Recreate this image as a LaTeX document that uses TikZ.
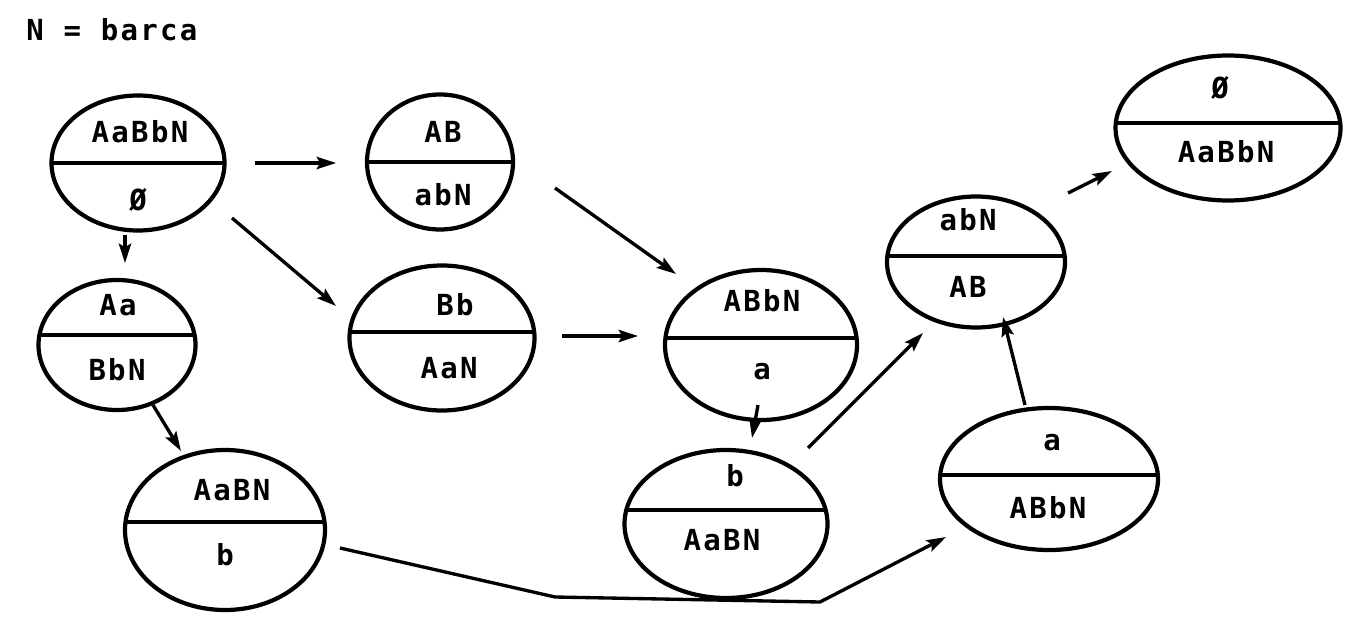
\documentclass[tikz,border=0pt]{standalone}
\usepackage{fontspec}
\newfontfamily\diagfont[LetterSpace=8]{DejaVu Sans Mono Bold}
\usetikzlibrary{shapes.geometric,arrows.meta}
\tikzset{
  st/.style={ellipse,draw,line width=2.4pt,inner sep=0pt,minimum width=#1},
  lbl/.style={font=\diagfont\fontsize{16.5}{19}\selectfont,inner sep=0pt},
  arr/.style={line width=1.9pt,-{Stealth[length=11pt,width=7pt,inset=2pt]}},
}
\newcommand{\divider}[1]{\draw[line width=2.3pt] ([yshift=#1]path picture bounding box.west) -- ([yshift=#1]path picture bounding box.east);}
\begin{document}
\begin{tikzpicture}[x=0.02cm,y=-0.02cm]
\useasboundingbox (0,0) rectangle (1371,625);
\node[lbl,anchor=west] (title) at (26,30) {N = barca};
% states
\node[st=173*0.02cm,minimum height=135*0.02cm,path picture={\divider{0pt}}] (s1) at (138,163) {};
\node[st=146*0.02cm,minimum height=135*0.02cm,path picture={\divider{0pt}}] (s2) at (440,162) {};
\node[st=157*0.02cm,minimum height=130*0.02cm,path picture={\divider{0.2cm}}] (s3) at (117,345) {};
\node[st=185*0.02cm,minimum height=145*0.02cm,path picture={\divider{0.12cm}}] (s4) at (442,338) {};
\node[st=192*0.02cm,minimum height=150*0.02cm,path picture={\divider{0.14cm}}] (s5) at (761,345) {};
\node[st=200*0.02cm,minimum height=160*0.02cm,path picture={\divider{0.16cm}}] (s6) at (225,530) {};
\node[st=203*0.02cm,minimum height=148*0.02cm,path picture={\divider{0.28cm}}] (s7) at (726,524) {};
\node[st=178*0.02cm,minimum height=131*0.02cm,path picture={\divider{0.12cm}}] (s8) at (976,262) {};
\node[st=225*0.02cm,minimum height=145*0.02cm,path picture={\divider{0.1cm}}] (s9) at (1228,128) {};
\node[st=218*0.02cm,minimum height=142*0.02cm,path picture={\divider{0.08cm}}] (s10) at (1049,479) {};
% texts
\node[lbl] (t1a) at (140,132) {AaBbN};
\node[lbl] (t1b) at (138,200) {Ø};
\node[lbl] (t2a) at (443,132) {AB};
\node[lbl] (t2b) at (443,195) {abN};
\node[lbl] (t3a) at (118,305) {Aa};
\node[lbl] (t3b) at (117,370) {BbN};
\node[lbl] (t4a) at (455,305) {Bb};
\node[lbl] (t4b) at (449,368) {AaN};
\node[lbl] (t5a) at (762,301) {ABbN};
\node[lbl] (t5b) at (762,372) {a};
\node[lbl] (t6a) at (232,490) {AaBN};
\node[lbl] (t6b) at (225,555) {b};
\node[lbl] (t7a) at (735,476) {b};
\node[lbl] (t7b) at (722,540) {AaBN};
\node[lbl] (t8a) at (968,220) {abN};
\node[lbl] (t8b) at (968,287) {AB};
\node[lbl] (t9a) at (1220,88) {Ø};
\node[lbl] (t9b) at (1226,152) {AaBbN};
\node[lbl] (t10a) at (1052,443) {a};
\node[lbl] (t10b) at (1048,508) {ABbN};
% connector ends
\coordinate (c12a) at (255,163); \coordinate (c12b) at (336,163);
\coordinate (c13a) at (125,235); \coordinate (c13b) at (125,263);
\coordinate (c14a) at (232,218); \coordinate (c14b) at (336,306);
\coordinate (c25a) at (555,188); \coordinate (c25b) at (676,274);
\coordinate (c45a) at (562,336); \coordinate (c45b) at (638,336);
\coordinate (c36a) at (153,405); \coordinate (c36b) at (181,451);
\coordinate (c57a) at (758,405); \coordinate (c57b) at (752,438);
\coordinate (c78a) at (808,448); \coordinate (c78b) at (923,333);
\coordinate (c89a) at (1068,193); \coordinate (c89b) at (1112,171);
\coordinate (c108a) at (1025,405); \coordinate (c108b) at (1003,317);
\coordinate (c610a) at (340,548); \coordinate (k1) at (555,597); \coordinate (k2) at (820,602); \coordinate (c610b) at (946,537);
\draw[arr] (c12a) -- (c12b);
\draw[arr] (c13a) -- (c13b);
\draw[arr] (c14a) -- (c14b);
\draw[arr] (c25a) -- (c25b);
\draw[arr] (c45a) -- (c45b);
\draw[arr] (c36a) -- (c36b);
\draw[arr] (c57a) -- (c57b);
\draw[arr] (c78a) -- (c78b);
\draw[arr] (c89a) -- (c89b);
\draw[arr] (c108a) -- (c108b);
\draw[arr,line join=round] (c610a) -- (k1) -- (k2) -- (c610b);
\end{tikzpicture}
\end{document}
